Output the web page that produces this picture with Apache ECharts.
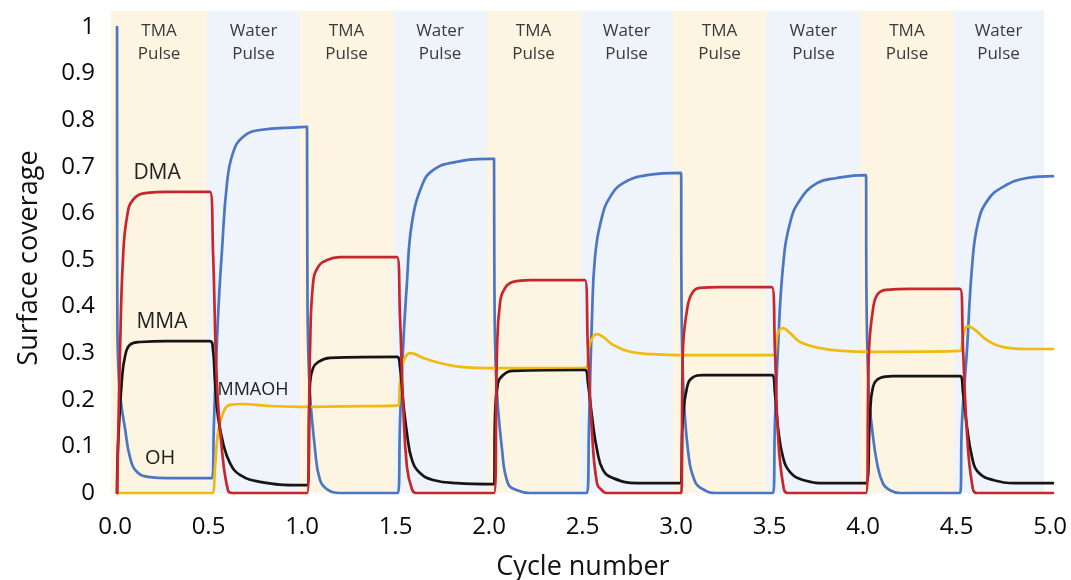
<!DOCTYPE html>
<html>
<head>
<meta charset="utf-8">
<script src="https://cdn.jsdelivr.net/npm/echarts@6/dist/echarts.min.js"></script>
<style>
html,body{margin:0;padding:0;background:#fff;}
#chart{width:1071px;height:580px;}
</style>
</head>
<body>
<div id="chart"></div>
<script>
// ---- data (x = cycle number, y = surface coverage) ----
const xTicks = [0, 0.5, 1, 1.5, 2, 2.5, 3, 3.5, 4, 4.5, 5];
const yTicks = [0, 0.1, 0.2, 0.3, 0.4, 0.5, 0.6, 0.7, 0.8, 0.9, 1];

const bandEdges = [-0.021, 0.492, 0.989, 1.487, 1.989, 2.487, 2.984, 3.481, 3.989, 4.481, 4.968];
const bandNames = ['TMA\nPulse', 'Water\nPulse', 'TMA\nPulse', 'Water\nPulse', 'TMA\nPulse',
                   'Water\nPulse', 'TMA\nPulse', 'Water\nPulse', 'TMA\nPulse', 'Water\nPulse'];

const ohData = [
  [0.011, 1.0], [0.0115, 0.6], [0.013, 0.35], [0.02, 0.25], [0.03, 0.2], [0.053, 0.14], [0.08, 0.077], [0.118, 0.045],
  [0.187, 0.034], [0.278, 0.032], [0.519, 0.032], [0.529, 0.15], [0.551, 0.378], [0.572, 0.52],
  [0.599, 0.665], [0.631, 0.73], [0.684, 0.764], [0.775, 0.779], [0.989, 0.785], [1.027, 0.786],
  [1.029, 0.45], [1.038, 0.25], [1.07, 0.092], [1.096, 0.028], [1.134, 0.008], [1.203, 0], [1.513, 0],
  [1.524, 0.15], [1.54, 0.307], [1.561, 0.45], [1.588, 0.58], [1.647, 0.665], [1.701, 0.693],
  [1.791, 0.708], [2.005, 0.717], [2.027, 0.717],
  [2.029, 0.45], [2.038, 0.25], [2.07, 0.092], [2.102, 0.02], [2.15, 0.006], [2.219, 0], [2.524, 0],
  [2.535, 0.15], [2.551, 0.378], [2.567, 0.506], [2.604, 0.592], [2.647, 0.635], [2.717, 0.665],
  [2.845, 0.682], [3.021, 0.687], [3.027, 0.687],
  [3.029, 0.45], [3.038, 0.24], [3.064, 0.092], [3.102, 0.024], [3.144, 0.008], [3.209, 0], [3.519, 0],
  [3.529, 0.15], [3.545, 0.307], [3.572, 0.485], [3.61, 0.58], [3.663, 0.629], [3.754, 0.665],
  [3.861, 0.676], [4.011, 0.682], [4.016, 0.682],
  [4.018, 0.45], [4.03, 0.22], [4.048, 0.14], [4.075, 0.064], [4.107, 0.02], [4.144, 0.006], [4.198, 0], [4.519, 0],
  [4.529, 0.15], [4.556, 0.307], [4.583, 0.485], [4.615, 0.58], [4.668, 0.629], [4.749, 0.657],
  [4.877, 0.676], [5.016, 0.68]
];

const dmaData = [
  [0.011, 0], [0.027, 0.307], [0.043, 0.506], [0.064, 0.592], [0.096, 0.629], [0.171, 0.644],
  [0.278, 0.646], [0.508, 0.646], [0.524, 0.52], [0.545, 0.236], [0.572, 0.092], [0.604, 0.006],
  [0.626, 0], [1.027, 0],
  [1.043, 0.307], [1.059, 0.45], [1.086, 0.485], [1.134, 0.5], [1.203, 0.506], [1.508, 0.506],
  [1.524, 0.378], [1.54, 0.2], [1.561, 0.056], [1.588, 0.008], [1.61, 0], [2.027, 0],
  [2.043, 0.307], [2.059, 0.408], [2.086, 0.44], [2.128, 0.453], [2.219, 0.457], [2.513, 0.457],
  [2.529, 0.307], [2.551, 0.129], [2.578, 0.02], [2.604, 0.006], [2.626, 0], [3.027, 0],
  [3.037, 0.307], [3.059, 0.393], [3.086, 0.429], [3.128, 0.44], [3.235, 0.442], [3.513, 0.442],
  [3.529, 0.307], [3.545, 0.129], [3.572, 0.02], [3.599, 0], [4.016, 0],
  [4.032, 0.307], [4.053, 0.393], [4.075, 0.425], [4.123, 0.436], [4.251, 0.438], [4.519, 0.438],
  [4.535, 0.307], [4.556, 0.129], [4.583, 0.02], [4.61, 0], [5.016, 0]
];

const mmaData = [
  [0.011, 0], [0.016, 0.1], [0.037, 0.243], [0.053, 0.292], [0.08, 0.318], [0.134, 0.324],
  [0.278, 0.326], [0.508, 0.326], [0.524, 0.307], [0.535, 0.236], [0.551, 0.163], [0.578, 0.107],
  [0.615, 0.064], [0.668, 0.039], [0.775, 0.024], [0.989, 0.017], [1.027, 0.017],
  [1.043, 0.236], [1.059, 0.268], [1.086, 0.281], [1.15, 0.29], [1.508, 0.292],
  [1.524, 0.27], [1.54, 0.2], [1.561, 0.129], [1.588, 0.071], [1.631, 0.043], [1.701, 0.028],
  [1.829, 0.021], [2.005, 0.019], [2.027, 0.019],
  [2.032, 0.163], [2.048, 0.236], [2.075, 0.253], [2.128, 0.262], [2.513, 0.264],
  [2.529, 0.236], [2.551, 0.163], [2.578, 0.092], [2.61, 0.049], [2.663, 0.032], [2.791, 0.021],
  [3.021, 0.021],
  [3.037, 0.163], [3.059, 0.227], [3.086, 0.247], [3.144, 0.253], [3.513, 0.253],
  [3.529, 0.215], [3.545, 0.142], [3.572, 0.077], [3.61, 0.045], [3.679, 0.028], [3.824, 0.021],
  [4.016, 0.021],
  [4.037, 0.163], [4.053, 0.227], [4.091, 0.247], [4.16, 0.251], [4.519, 0.251],
  [4.535, 0.215], [4.556, 0.142], [4.583, 0.077], [4.615, 0.045], [4.695, 0.028], [4.84, 0.021],
  [5.016, 0.021]
];

const mmaohData = [
  [0.011, 0], [0.519, 0], [0.535, 0.056], [0.551, 0.129], [0.578, 0.172], [0.615, 0.189],
  [0.684, 0.191], [0.813, 0.187], [0.989, 0.185], [1.203, 0.186], [1.513, 0.188],
  [1.524, 0.236], [1.54, 0.279], [1.578, 0.3], [1.604, 0.298], [1.647, 0.29], [1.738, 0.279],
  [1.861, 0.27], [2.005, 0.268], [2.513, 0.268],
  [2.54, 0.322], [2.578, 0.341], [2.61, 0.335], [2.663, 0.318], [2.754, 0.303], [2.877, 0.298],
  [3.021, 0.296], [3.519, 0.296],
  [3.545, 0.343], [3.572, 0.354], [3.61, 0.343], [3.663, 0.324], [3.77, 0.311], [3.893, 0.305],
  [4.037, 0.303], [4.519, 0.305],
  [4.535, 0.335], [4.561, 0.358], [4.599, 0.35], [4.663, 0.328], [4.749, 0.313], [4.877, 0.309],
  [5.016, 0.309]
];

const seriesLabels = [
  { name: 'DMA',   at: [0.225, 0.687], size: 21 },
  { name: 'MMA',   at: [0.251, 0.367], size: 21 },
  { name: 'MMAOH', at: [0.738, 0.221], size: 18 },
  { name: 'OH',    at: [0.241, 0.075], size: 20 }
];

// ---- chart ----
const FONT = '"Open Sans", "DejaVu Sans", sans-serif';
const chart = echarts.init(document.getElementById('chart'));

const bandAreas = [];
for (let i = 0; i < bandNames.length; i++) {
  const isTma = bandNames[i].indexOf('TMA') === 0;
  bandAreas.push([
    { xAxis: bandEdges[i], yAxis: 0, name: bandNames[i],
      itemStyle: { color: isTma ? '#fdf5e2' : '#eff3fa' } },
    { xAxis: bandEdges[i + 1], yAxis: 1.035 }
  ]);
}

function lineSeries(name, data, color, extra) {
  return Object.assign({
    name: name, type: 'line', data: data, showSymbol: false, symbol: 'none',
    smooth: 0.45, clip: false,
    lineStyle: { color: color, width: 2.7, join: 'round', cap: 'round' },
    itemStyle: { color: color },
    silent: true, animation: false
  }, extra || {});
}

chart.setOption({
  animation: false,
  backgroundColor: '#ffffff',
  grid: { left: 111, right: 18, top: 10.7, bottom: 87, containLabel: false, outerBoundsMode: 'none' },
  xAxis: {
    type: 'value', min: -0.0214, max: 5.016,
    axisLine: { show: false }, axisTick: { show: false }, splitLine: { show: false },
    axisLabel: {
      customValues: xTicks, margin: 22,
      formatter: v => v.toFixed(1),
      fontFamily: FONT, fontSize: 24, fontWeight: 500, color: '#0a0a0a'
    }
  },
  yAxis: {
    type: 'value', min: 0, max: 1.035,
    axisLine: { show: false }, axisTick: { show: false }, splitLine: { show: false },
    axisLabel: {
      customValues: yTicks, margin: 16,
      formatter: v => (v === 0 ? '0' : v === 1 ? '1' : v.toFixed(1)),
      fontFamily: FONT, fontSize: 24, fontWeight: 500, color: '#0a0a0a'
    }
  },
  series: [
    lineSeries('OH', ohData, '#4a76c4', {
      z: 2,
      markArea: {
        silent: true, z: 0,
        label: {
          show: true, position: 'insideTop', distance: 9,
          fontFamily: FONT, fontSize: 17, fontWeight: 500, lineHeight: 23, color: '#3a3a3a'
        },
        data: bandAreas
      }
    }),
    lineSeries('MMAOH', mmaohData, '#f2b90f', { z: 3 }),
    lineSeries('MMA', mmaData, '#151515', { z: 4 }),
    lineSeries('DMA', dmaData, '#c8262c', {
      z: 5,
      markPoint: {
        symbol: 'circle', symbolSize: 0, silent: true,
        data: seriesLabels.map(s => ({
          coord: s.at, name: s.name,
          label: { show: true, formatter: s.name, position: 'inside',
                   fontFamily: FONT, fontSize: s.size, fontWeight: 500, color: '#222' }
        }))
      }
    })
  ],
  graphic: [
    { type: 'text', x: 29, y: 258, rotation: Math.PI / 2,
      style: { text: 'Surface coverage', fontFamily: FONT, fontSize: 27, fontWeight: 500, fill: '#111',
               textAlign: 'center', textVerticalAlign: 'middle' } },
    { type: 'text', x: 583, y: 567,
      style: { text: 'Cycle number', fontFamily: FONT, fontSize: 27, fontWeight: 500, fill: '#111',
               textAlign: 'center', textVerticalAlign: 'middle' } }
  ]
});
</script>
</body>
</html>
